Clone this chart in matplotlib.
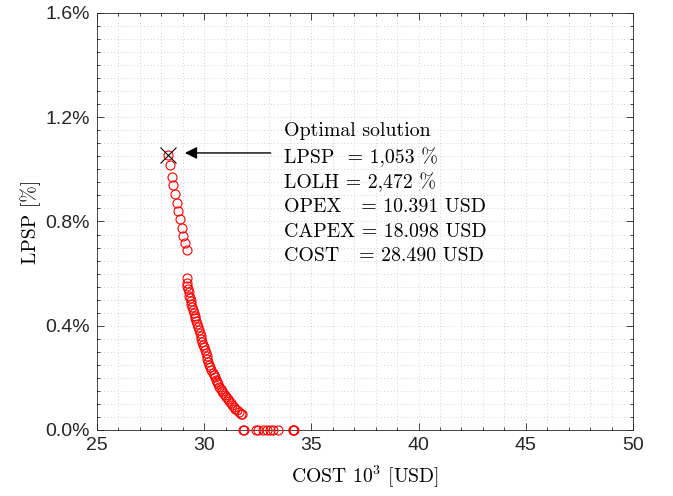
import numpy as np
import matplotlib
matplotlib.use("Agg")
import matplotlib.pyplot as plt
from matplotlib.ticker import MultipleLocator, FuncFormatter

# Pareto front: total cost (10^3 USD) vs LPSP (%)
cost = [28.33, 28.40, 28.48, 28.56, 28.64, 28.72, 28.79, 28.87, 28.95, 29.03, 29.10, 29.18,
        29.18, 29.20, 29.22, 29.25, 29.28, 29.31, 29.34, 29.37, 29.40, 29.43, 29.47, 29.51,
        29.55, 29.59, 29.63, 29.67, 29.71, 29.75, 29.79, 29.83, 29.87, 29.91, 29.95, 29.99,
        30.03, 30.07, 30.11, 30.15, 30.19, 30.24, 30.29, 30.34, 30.39, 30.44, 30.49, 30.54,
        30.59, 30.65, 30.71, 30.77, 30.83, 30.89, 30.95, 31.02, 31.09, 31.16, 31.23, 31.30,
        31.38, 31.46, 31.54, 31.62, 31.70, 31.75,
        31.80, 31.86, 32.42, 32.50, 32.73, 32.92, 33.07, 33.23, 33.42, 34.12, 34.16, 34.20]
lpsp = [1.055, 1.017, 0.972, 0.940, 0.906, 0.872, 0.840, 0.809, 0.776, 0.744, 0.716, 0.691,
        0.582, 0.565, 0.552, 0.540, 0.528, 0.516, 0.505, 0.494, 0.483, 0.472, 0.461, 0.450,
        0.439, 0.428, 0.417, 0.406, 0.395, 0.384, 0.372, 0.361, 0.350, 0.339, 0.328, 0.317,
        0.306, 0.295, 0.284, 0.273, 0.262, 0.251, 0.240, 0.230, 0.220, 0.211, 0.202, 0.193,
        0.184, 0.175, 0.166, 0.158, 0.150, 0.142, 0.134, 0.126, 0.118, 0.110, 0.103, 0.096,
        0.089, 0.082, 0.075, 0.068, 0.063, 0.060,
        0.0, 0.0, 0.0, 0.0, 0.0, 0.0, 0.0, 0.0, 0.0, 0.0, 0.0, 0.0]

opt_cost = 28.33
opt_lpsp = 1.055
info_lines = ["Optimal solution",
              "LPSP  = 1,053 %",
              "LOLH = 2,472 %",
              "OPEX   = 10.391 USD",
              "CAPEX = 18.098 USD",
              "COST   = 28.490 USD"]

plt.rcParams['mathtext.fontset'] = 'cm'

fig = plt.figure(figsize=(6.73, 4.96), dpi=100)
ax = fig.add_axes([0.1441, 0.1331, 0.7965, 0.8407])

ax.plot(cost, lpsp, 'o', mfc='none', mec='red', ms=6.5, mew=0.8, clip_on=False, zorder=3)
ax.plot(opt_cost, opt_lpsp, 'x', color='black', ms=12, mew=0.8, zorder=4)

ax.annotate("", xy=(29.1, 1.063), xytext=(33.1, 1.063),
            arrowprops=dict(arrowstyle='-|>', color='black', lw=1.0,
                            mutation_scale=18, shrinkA=0, shrinkB=0))

ys = [1.147, 1.048, 0.952, 0.856, 0.760, 0.668]
for line, y in zip(info_lines, ys):
    ax.text(33.72, y, line, fontfamily='cmr10', fontsize=14.3, va='center', ha='left')

ax.set_xlim(25, 50)
ax.set_ylim(0, 1.6)
ax.xaxis.set_major_locator(MultipleLocator(5))
ax.xaxis.set_minor_locator(MultipleLocator(1))
ax.yaxis.set_major_locator(MultipleLocator(0.4))
ax.yaxis.set_minor_locator(MultipleLocator(0.05))
ax.yaxis.set_major_formatter(FuncFormatter(lambda v, p: f"{v:.1f}%"))

ax.grid(True, which='both', linestyle=(0, (1, 3)), color='#c4c4c4', linewidth=0.6)
ax.set_axisbelow(True)
ax.tick_params(which='both', direction='in', top=True, right=True, colors='#262626',
               labelsize=14, width=0.6, pad=5)
ax.tick_params(which='major', length=5)
ax.tick_params(which='minor', length=2.5)
for lab in ax.get_xticklabels() + ax.get_yticklabels():
    lab.set_fontfamily('Liberation Sans')
for s in ax.spines.values():
    s.set_color('#262626')
    s.set_linewidth(0.6)

ax.set_xlabel(r"COST $10^3$ [USD]", fontfamily='cmr10', fontsize=14.2, labelpad=7)
ax.set_ylabel("LPSP [%]", fontfamily='cmr10', fontsize=14.2, labelpad=3)

fig.savefig("out.png", dpi=100)
